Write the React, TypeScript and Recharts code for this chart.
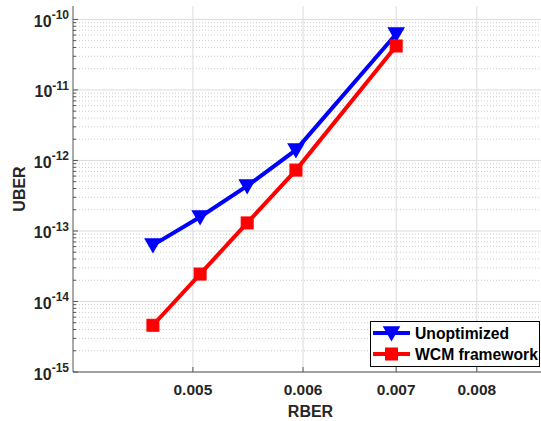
import React from 'react';
import { LineChart, Line, XAxis, YAxis, CartesianGrid, Legend } from 'recharts';

// RBER operating points
const rber = [0.00468, 0.00506, 0.00547, 0.00593, 0.007];
// UBER without optimization
const unoptimized = [6.3e-14, 1.58e-13, 4.35e-13, 1.41e-12, 6.2e-11];
// UBER with the WCM framework
const wcmFramework = [4.6e-15, 2.45e-14, 1.3e-13, 7.3e-13, 4.2e-11];

const xTicks = [0.005, 0.006, 0.007, 0.008];
const yDecades = [1e-15, 1e-14, 1e-13, 1e-12, 1e-11, 1e-10];
const minorSteps = [2, 3, 4, 5, 6, 7, 8, 9];

const xDomain = [0.0041, 0.009];
const yDomain = [1e-15, 1.55e-10];

const yMinor = yDecades.flatMap((d) => minorSteps.map((m) => m * d)).filter((v) => v < yDomain[1]);

const data = rber.map((r, i) => ({ rber: r, unopt: unoptimized[i], wcm: wcmFramework[i] }));

const series = [
  { key: 'unopt', name: 'Unoptimized', color: '#0000ff', marker: 'tri' },
  { key: 'wcm', name: 'WCM framework', color: '#ff0000', marker: 'sq' },
];

const FONT = '"Liberation Sans", Arial, Helvetica, sans-serif';
const TEXT = '#262626';
const AXIS = '#555555';

function Marker({ kind, cx, cy, color }: { kind: string; cx: number; cy: number; color: string }) {
  if (kind === 'tri') {
    const pts = `${cx - 7.5},${cy - 6} ${cx + 7.5},${cy - 6} ${cx},${cy + 7}`;
    return <polygon points={pts} fill={color} stroke={color} strokeWidth={1.5} strokeLinejoin="miter" />;
  }
  return <rect x={cx - 6} y={cy - 6} width={12} height={12} fill={color} stroke={color} strokeWidth={1} />;
}

const makeDot = (kind: string, color: string) => (props: any) => {
  const { cx, cy, index } = props;
  if (cx == null || cy == null) return <g key={`d-${index}`} />;
  return (
    <g key={`d-${kind}-${index}`}>
      <Marker kind={kind} cx={cx} cy={cy} color={color} />
    </g>
  );
};

const isDecade = (v: number) => Math.abs(Math.log10(v) - Math.round(Math.log10(v))) < 1e-6;

const BottomTick = (props: any) => {
  const { x, y, payload } = props;
  return (
    <g>
      <line x1={x} x2={x} y1={y} y2={y - 5} stroke={AXIS} strokeWidth={1} />
      <text x={x} y={y + 23} textAnchor="middle" fontFamily={FONT} fontWeight="bold" fontSize={15.5} fill={TEXT}>
        {String(payload.value)}
      </text>
    </g>
  );
};

const TopTick = (props: any) => {
  const { x, y } = props;
  return <line x1={x} x2={x} y1={y} y2={y + 5} stroke={AXIS} strokeWidth={1} />;
};

const LeftTick = (props: any) => {
  const { x, y, payload } = props;
  const v = payload.value as number;
  if (!isDecade(v)) {
    return <line x1={x} x2={x + 3} y1={y} y2={y} stroke={AXIS} strokeWidth={1} />;
  }
  const exp = Math.round(Math.log10(v));
  return (
    <g>
      <line x1={x} x2={x + 5} y1={y} y2={y} stroke={AXIS} strokeWidth={1} />
      <text x={x - 4} y={y + 7.5} textAnchor="end" fontFamily={FONT} fontWeight="bold" fill={TEXT}>
        <tspan fontSize={16}>10</tspan>
        <tspan fontSize={12} dy={-7.5}>{String(exp)}</tspan>
      </text>
    </g>
  );
};

const YLabel = (props: any) => {
  const vb = props.viewBox || { x: 0, y: 6, width: 73, height: 366 };
  const cx = 25;
  const cy = vb.y + vb.height / 2;
  return (
    <text
      x={cx}
      y={cy}
      transform={`rotate(-90, ${cx}, ${cy})`}
      textAnchor="middle"
      fontFamily={FONT}
      fontWeight="bold"
      fontSize={16}
      fill={TEXT}
    >
      UBER
    </text>
  );
};

const renderLegend = (props: any) => {
  const payload = (props.payload || []) as any[];
  return (
    <svg width={170} height={46} style={{ display: 'block' }}>
      <rect x={0.5} y={0.5} width={169} height={45} fill="#ffffff" stroke="#000000" strokeWidth={1} />
      {payload.map((entry, i) => {
        const s = series.find((q) => q.key === entry.dataKey) || series[i];
        const cy = 12 + i * 21;
        return (
          <g key={s.key}>
            <line x1={3} x2={40} y1={cy} y2={cy} stroke={s.color} strokeWidth={4} />
            <Marker kind={s.marker} cx={21.5} cy={cy} color={s.color} />
            <text x={45} y={cy + 6} fontFamily={FONT} fontWeight="bold" fontSize={15.7} fill="#000000">
              {s.name}
            </text>
          </g>
        );
      })}
    </svg>
  );
};

export default function App() {
  return (
    <div
      style={{
        position: 'absolute',
        left: 0,
        top: 0,
        width: 541,
        height: 421,
        overflow: 'hidden',
        background: '#ffffff',
      }}
    >
      <LineChart width={560} height={421} data={data} margin={{ top: 6, right: 12, bottom: 0, left: 0 }}>
        <CartesianGrid vertical={false} horizontalValues={yMinor} stroke="#cdcdcd" strokeDasharray="1 2" />
        <CartesianGrid horizontalValues={yDecades} verticalValues={xTicks} stroke="#dcdcdc" />
        <XAxis
          dataKey="rber"
          type="number"
          scale="log"
          domain={xDomain}
          allowDataOverflow
          ticks={xTicks}
          interval={0}
          height={49}
          tickSize={0}
          tickMargin={0}
          tickLine={false}
          axisLine={{ stroke: AXIS, strokeWidth: 1 }}
          tick={<BottomTick />}
          label={{ value: 'RBER', position: 'insideBottom', offset: 4, fontFamily: FONT, fontWeight: 'bold', fontSize: 16, fill: TEXT }}
        />
        <XAxis
          xAxisId="top"
          orientation="top"
          dataKey="rber"
          type="number"
          scale="log"
          domain={xDomain}
          allowDataOverflow
          ticks={xTicks}
          interval={0}
          height={0}
          tickSize={0}
          tickMargin={0}
          tickLine={false}
          axisLine={{ stroke: AXIS, strokeWidth: 1 }}
          tick={<TopTick />}
        />
        <YAxis
          type="number"
          scale="log"
          domain={yDomain}
          allowDataOverflow
          ticks={[...yDecades, ...yMinor]}
          interval={0}
          width={73}
          tickSize={0}
          tickMargin={0}
          tickLine={false}
          axisLine={{ stroke: AXIS, strokeWidth: 1 }}
          tick={<LeftTick />}
          label={<YLabel />}
        />
        <Legend
          layout="vertical"
          align="center"
          verticalAlign="middle"
          content={renderLegend}
          wrapperStyle={{ left: 370, top: 321, width: 170, height: 46 }}
        />
        {series.map((s) => (
          <Line
            key={s.key}
            type="linear"
            dataKey={s.key}
            name={s.name}
            stroke={s.color}
            strokeWidth={4}
            dot={makeDot(s.marker, s.color)}
            activeDot={false}
            isAnimationActive={false}
          />
        ))}
      </LineChart>
    </div>
  );
}
